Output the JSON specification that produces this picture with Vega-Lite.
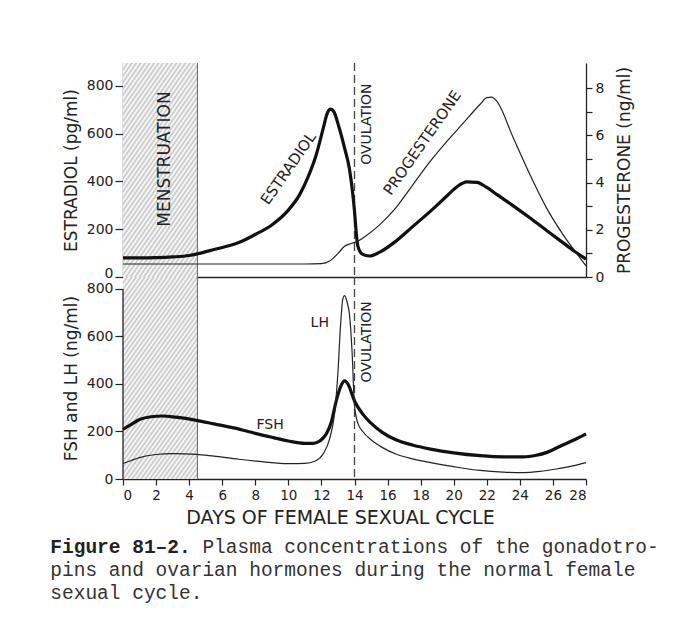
{
 "$schema": "https://vega.github.io/schema/vega-lite/v6.json",
 "background": "white",
 "padding": {"left": 50, "top": 62, "right": 5, "bottom": 5},
 "spacing": 0,
 "bounds": "flush",
 "resolve": {"scale": {"x": "independent"}, "axis": {"x": "independent"}},
 "config": {
  "view": {"stroke": null},
  "font": "DejaVu Sans",
  "axis": {"grid": false, "labelFont": "DejaVu Sans", "labelFontSize": 14, "labelColor": "#222", "titleFont": "DejaVu Sans", "titleFontSize": 17, "titleFontWeight": "normal", "titleColor": "#222", "domainColor": "#222", "tickColor": "#222", "domainWidth": 1.3, "tickWidth": 1.2, "labelOverlap": false}
 },
 "datasets": {
  "estradiol": [
   {"day":0,"v":80},{"day":1,"v":80},{"day":2,"v":81},{"day":3,"v":84},{"day":4,"v":90},{"day":4.5,"v":97},{"day":5.5,"v":115},{"day":7,"v":144},{"day":8,"v":178},{"day":9,"v":218},{"day":10,"v":280},{"day":10.7,"v":347},{"day":11.2,"v":420},{"day":11.7,"v":515},{"day":12.1,"v":620},{"day":12.35,"v":685},{"day":12.55,"v":703},{"day":12.75,"v":692},{"day":13.05,"v":630},{"day":13.4,"v":540},{"day":13.7,"v":450},{"day":13.9,"v":345},{"day":14.0,"v":276},{"day":14.1,"v":190},{"day":14.2,"v":130},{"day":14.45,"v":97},{"day":14.9,"v":88},{"day":15.5,"v":103},{"day":16.5,"v":150},{"day":17.5,"v":210},{"day":18.6,"v":276},{"day":19.6,"v":340},{"day":20.2,"v":378},{"day":20.8,"v":398},{"day":21.4,"v":396},{"day":22.0,"v":375},{"day":22.6,"v":346},{"day":23.6,"v":298},{"day":24.6,"v":248},{"day":25.6,"v":196},{"day":26.6,"v":144},{"day":27.3,"v":108},{"day":28,"v":75}
  ],
  "progesterone": [
   {"day":0,"v":0.55},{"day":4,"v":0.55},{"day":8,"v":0.55},{"day":11,"v":0.55},{"day":12,"v":0.57},{"day":12.5,"v":0.68},{"day":13,"v":1.0},{"day":13.4,"v":1.3},{"day":13.8,"v":1.42},{"day":14.2,"v":1.52},{"day":14.6,"v":1.7},{"day":15.5,"v":2.2},{"day":16.5,"v":2.93},{"day":17.55,"v":3.93},{"day":18.6,"v":4.92},{"day":19.6,"v":5.76},{"day":20.6,"v":6.54},{"day":21.6,"v":7.32},{"day":22.0,"v":7.6},{"day":22.3,"v":7.62},{"day":22.6,"v":7.45},{"day":23.6,"v":5.9},{"day":24.6,"v":4.35},{"day":25.6,"v":2.94},{"day":26.6,"v":1.81},{"day":27.4,"v":1.03},{"day":28,"v":0.47}
  ],
  "fsh": [
   {"day":0,"v":209},{"day":0.5,"v":230},{"day":1,"v":250},{"day":1.7,"v":262},{"day":2.4,"v":265},{"day":3.2,"v":260},{"day":4.45,"v":247},{"day":5.5,"v":232},{"day":7.07,"v":209},{"day":8,"v":192},{"day":9.1,"v":174},{"day":10,"v":160},{"day":11,"v":150},{"day":11.5,"v":150},{"day":11.9,"v":160},{"day":12.3,"v":190},{"day":12.6,"v":240},{"day":12.9,"v":330},{"day":13.2,"v":395},{"day":13.4,"v":413},{"day":13.6,"v":400},{"day":14.0,"v":328},{"day":14.5,"v":273},{"day":15,"v":235},{"day":15.7,"v":195},{"day":16.5,"v":165},{"day":17.5,"v":143},{"day":18.6,"v":126},{"day":20,"v":110},{"day":21.6,"v":98},{"day":23,"v":93},{"day":24.2,"v":93},{"day":25,"v":100},{"day":25.6,"v":111},{"day":26.5,"v":140},{"day":27.3,"v":165},{"day":28,"v":190}
  ],
  "lh": [
   {"day":0,"v":65},{"day":0.5,"v":78},{"day":1,"v":90},{"day":2,"v":103},{"day":3,"v":107},{"day":4.45,"v":104},{"day":5.5,"v":96},{"day":7,"v":83},{"day":8.5,"v":72},{"day":10,"v":65},{"day":11,"v":66},{"day":11.6,"v":75},{"day":12.1,"v":105},{"day":12.5,"v":170},{"day":12.8,"v":280},{"day":13.0,"v":450},{"day":13.15,"v":640},{"day":13.3,"v":760},{"day":13.4,"v":772},{"day":13.55,"v":745},{"day":13.7,"v":690},{"day":13.85,"v":540},{"day":14.0,"v":310},{"day":14.2,"v":235},{"day":14.5,"v":200},{"day":15,"v":165},{"day":15.7,"v":132},{"day":16.5,"v":105},{"day":17.5,"v":85},{"day":18.6,"v":69},{"day":20,"v":52},{"day":21.6,"v":36},{"day":23,"v":29},{"day":24.2,"v":27},{"day":25.2,"v":32},{"day":26.2,"v":42},{"day":27.2,"v":55},{"day":28,"v":69}
  ]
 },
 "title": {
  "text": "Figure 81–2.",
  "subtitle": ["\u200b\u00a0\u00a0\u00a0\u00a0\u00a0\u00a0\u00a0\u00a0\u00a0\u00a0\u00a0\u00a0\u00a0Plasma concentrations of the gonadotro-", "pins and ovarian hormones during the normal female", "sexual cycle."],
  "orient": "bottom", "anchor": "start", "frame": "bounds",
  "font": "Liberation Mono", "fontSize": 19.5, "fontWeight": "bold", "color": "#222",
  "subtitleFont": "Liberation Mono", "subtitleFontSize": 19.5, "subtitleFontWeight": "normal", "subtitleColor": "#333", "subtitleLineHeight": 23, "subtitlePadding": -19.5,
  "offset": 10, "dx": -12
 },
 "vconcat": [
  {
   "width": 463, "height": 214,
   "layer": [
    {"layer": [
     {"data": {"values": [{"day": 0, "end": 4.5}]},
      "mark": {"type": "rect", "fill": {"gradient":"linear","x1":0,"y1":0,"x2":0.6,"y2":1.2,"stops":[{"offset":0,"color":"#c4c4c4"},{"offset":0.01,"color":"#fff"},{"offset":0.02,"color":"#c4c4c4"},{"offset":0.03,"color":"#fff"},{"offset":0.04,"color":"#c4c4c4"},{"offset":0.05,"color":"#fff"},{"offset":0.06,"color":"#c4c4c4"},{"offset":0.07,"color":"#fff"},{"offset":0.08,"color":"#c4c4c4"},{"offset":0.09,"color":"#fff"},{"offset":0.1,"color":"#c4c4c4"},{"offset":0.11,"color":"#fff"},{"offset":0.12,"color":"#c4c4c4"},{"offset":0.13,"color":"#fff"},{"offset":0.14,"color":"#c4c4c4"},{"offset":0.15,"color":"#fff"},{"offset":0.16,"color":"#c4c4c4"},{"offset":0.17,"color":"#fff"},{"offset":0.18,"color":"#c4c4c4"},{"offset":0.19,"color":"#fff"},{"offset":0.2,"color":"#c4c4c4"},{"offset":0.21,"color":"#fff"},{"offset":0.22,"color":"#c4c4c4"},{"offset":0.23,"color":"#fff"},{"offset":0.24,"color":"#c4c4c4"},{"offset":0.25,"color":"#fff"},{"offset":0.26,"color":"#c4c4c4"},{"offset":0.27,"color":"#fff"},{"offset":0.28,"color":"#c4c4c4"},{"offset":0.29,"color":"#fff"},{"offset":0.3,"color":"#c4c4c4"},{"offset":0.31,"color":"#fff"},{"offset":0.32,"color":"#c4c4c4"},{"offset":0.33,"color":"#fff"},{"offset":0.34,"color":"#c4c4c4"},{"offset":0.35,"color":"#fff"},{"offset":0.36,"color":"#c4c4c4"},{"offset":0.37,"color":"#fff"},{"offset":0.38,"color":"#c4c4c4"},{"offset":0.39,"color":"#fff"},{"offset":0.4,"color":"#c4c4c4"},{"offset":0.41,"color":"#fff"},{"offset":0.42,"color":"#c4c4c4"},{"offset":0.43,"color":"#fff"},{"offset":0.44,"color":"#c4c4c4"},{"offset":0.45,"color":"#fff"},{"offset":0.46,"color":"#c4c4c4"},{"offset":0.47,"color":"#fff"},{"offset":0.48,"color":"#c4c4c4"},{"offset":0.49,"color":"#fff"},{"offset":0.5,"color":"#c4c4c4"},{"offset":0.51,"color":"#fff"},{"offset":0.52,"color":"#c4c4c4"},{"offset":0.53,"color":"#fff"},{"offset":0.54,"color":"#c4c4c4"},{"offset":0.55,"color":"#fff"},{"offset":0.56,"color":"#c4c4c4"},{"offset":0.57,"color":"#fff"},{"offset":0.58,"color":"#c4c4c4"},{"offset":0.59,"color":"#fff"},{"offset":0.6,"color":"#c4c4c4"},{"offset":0.61,"color":"#fff"},{"offset":0.62,"color":"#c4c4c4"},{"offset":0.63,"color":"#fff"},{"offset":0.64,"color":"#c4c4c4"},{"offset":0.65,"color":"#fff"},{"offset":0.66,"color":"#c4c4c4"},{"offset":0.67,"color":"#fff"},{"offset":0.68,"color":"#c4c4c4"},{"offset":0.69,"color":"#fff"},{"offset":0.7,"color":"#c4c4c4"},{"offset":0.71,"color":"#fff"},{"offset":0.72,"color":"#c4c4c4"},{"offset":0.73,"color":"#fff"},{"offset":0.74,"color":"#c4c4c4"},{"offset":0.75,"color":"#fff"},{"offset":0.76,"color":"#c4c4c4"},{"offset":0.77,"color":"#fff"},{"offset":0.78,"color":"#c4c4c4"},{"offset":0.79,"color":"#fff"},{"offset":0.8,"color":"#c4c4c4"},{"offset":0.81,"color":"#fff"},{"offset":0.82,"color":"#c4c4c4"},{"offset":0.83,"color":"#fff"},{"offset":0.84,"color":"#c4c4c4"},{"offset":0.85,"color":"#fff"},{"offset":0.86,"color":"#c4c4c4"},{"offset":0.87,"color":"#fff"},{"offset":0.88,"color":"#c4c4c4"},{"offset":0.89,"color":"#fff"},{"offset":0.9,"color":"#c4c4c4"},{"offset":0.91,"color":"#fff"},{"offset":0.92,"color":"#c4c4c4"},{"offset":0.93,"color":"#fff"},{"offset":0.94,"color":"#c4c4c4"},{"offset":0.95,"color":"#fff"},{"offset":0.96,"color":"#c4c4c4"},{"offset":0.97,"color":"#fff"},{"offset":0.98,"color":"#c4c4c4"},{"offset":0.99,"color":"#fff"},{"offset":1,"color":"#c4c4c4"}]}},
      "encoding": {"x2": {"field": "end"}}},
     {"data": {"values": [{"day": 4.5}]}, "mark": {"type": "rule", "color": "#666", "strokeWidth": 1}},
     {"data": {"values": [{"day": 14}]}, "mark": {"type": "rule", "color": "#444", "strokeWidth": 1.3, "strokeDash": [8, 4]}},
     {"data": {"name": "estradiol"}, "mark": {"type": "line", "color": "#111", "strokeWidth": 3.2, "interpolate": "monotone"},
      "encoding": {"y": {"field": "v", "type": "quantitative", "scale": {"domain": [0, 896], "nice": false}, "axis": {"title": "ESTRADIOL (pg/ml)", "values": [0,100,200,300,400,500,600,700,800], "labelExpr": "datum.value % 200 == 0 ? datum.label : ''", "tickSize": 8, "labelPadding": 2, "titlePadding": 6, "labelFlush": true, "labelFlushOffset": 3}}}},
     {"data": {"values": [{"day": 2.55, "v": 494, "t": "MENSTRUATION"}]}, "mark": {"type": "text", "angle": 270, "fontSize": 17, "font": "DejaVu Sans", "color": "#222", "align": "center", "baseline": "middle"},
      "encoding": {"y": {"field": "v", "type": "quantitative"}, "text": {"field": "t"}}},
     {"data": {"values": [{"day": 14.74, "v": 640, "t": "OVULATION"}]}, "mark": {"type": "text", "angle": 270, "fontSize": 14, "font": "DejaVu Sans", "color": "#222", "align": "center", "baseline": "middle"},
      "encoding": {"y": {"field": "v", "type": "quantitative"}, "text": {"field": "t"}}},
     {"data": {"values": [{"day": 10.0, "v": 455, "t": "ESTRADIOL"}, {"day": 18.1, "v": 562, "t": "PROGESTERONE"}]}, "mark": {"type": "text", "angle": 305, "fontSize": 15, "font": "DejaVu Sans", "color": "#222", "align": "center", "baseline": "middle"},
      "encoding": {"y": {"field": "v", "type": "quantitative"}, "text": {"field": "t"}}}
    ]},
    {"data": {"name": "progesterone"}, "mark": {"type": "line", "color": "#222", "strokeWidth": 1.2, "interpolate": "monotone"},
     "encoding": {"y": {"field": "v", "type": "quantitative", "scale": {"domain": [0, 9.07], "nice": false}, "axis": {"orient": "right", "title": "PROGESTERONE (ng/ml)", "titleAngle": 270, "values": [0,1,2,3,4,5,6,7,8], "labelExpr": "datum.value % 2 == 0 ? datum.label : ''", "tickSize": 6, "labelPadding": 3, "titlePadding": 30}}}}
   ],
   "encoding": {"x": {"field": "day", "type": "quantitative", "scale": {"domain": [0, 28], "nice": false}, "axis": {"title": null, "labels": false, "ticks": false, "domain": true}}},
   "resolve": {"scale": {"y": "independent"}}
  },
  {
   "width": 463, "height": 202,
   "encoding": {"x": {"field": "day", "type": "quantitative", "scale": {"domain": [0, 28], "nice": false}, "axis": {"title": "DAYS OF FEMALE SEXUAL CYCLE", "titleFontSize": 19, "labelFontSize": 13.5, "values": [0,2,4,6,8,10,12,14,16,18,20,22,24,26,28], "tickSize": 6, "labelPadding": 3, "titlePadding": 7, "titleX": 217, "titleAlign": "center"}}},
   "layer": [
    {"data": {"values": [{"day": 0, "end": 4.5}]},
     "mark": {"type": "rect", "fill": {"gradient":"linear","x1":0,"y1":0,"x2":0.62,"y2":1.2,"stops":[{"offset":0,"color":"#c4c4c4"},{"offset":0.01,"color":"#fff"},{"offset":0.02,"color":"#c4c4c4"},{"offset":0.03,"color":"#fff"},{"offset":0.04,"color":"#c4c4c4"},{"offset":0.05,"color":"#fff"},{"offset":0.06,"color":"#c4c4c4"},{"offset":0.07,"color":"#fff"},{"offset":0.08,"color":"#c4c4c4"},{"offset":0.09,"color":"#fff"},{"offset":0.1,"color":"#c4c4c4"},{"offset":0.11,"color":"#fff"},{"offset":0.12,"color":"#c4c4c4"},{"offset":0.13,"color":"#fff"},{"offset":0.14,"color":"#c4c4c4"},{"offset":0.15,"color":"#fff"},{"offset":0.16,"color":"#c4c4c4"},{"offset":0.17,"color":"#fff"},{"offset":0.18,"color":"#c4c4c4"},{"offset":0.19,"color":"#fff"},{"offset":0.2,"color":"#c4c4c4"},{"offset":0.21,"color":"#fff"},{"offset":0.22,"color":"#c4c4c4"},{"offset":0.23,"color":"#fff"},{"offset":0.24,"color":"#c4c4c4"},{"offset":0.25,"color":"#fff"},{"offset":0.26,"color":"#c4c4c4"},{"offset":0.27,"color":"#fff"},{"offset":0.28,"color":"#c4c4c4"},{"offset":0.29,"color":"#fff"},{"offset":0.3,"color":"#c4c4c4"},{"offset":0.31,"color":"#fff"},{"offset":0.32,"color":"#c4c4c4"},{"offset":0.33,"color":"#fff"},{"offset":0.34,"color":"#c4c4c4"},{"offset":0.35,"color":"#fff"},{"offset":0.36,"color":"#c4c4c4"},{"offset":0.37,"color":"#fff"},{"offset":0.38,"color":"#c4c4c4"},{"offset":0.39,"color":"#fff"},{"offset":0.4,"color":"#c4c4c4"},{"offset":0.41,"color":"#fff"},{"offset":0.42,"color":"#c4c4c4"},{"offset":0.43,"color":"#fff"},{"offset":0.44,"color":"#c4c4c4"},{"offset":0.45,"color":"#fff"},{"offset":0.46,"color":"#c4c4c4"},{"offset":0.47,"color":"#fff"},{"offset":0.48,"color":"#c4c4c4"},{"offset":0.49,"color":"#fff"},{"offset":0.5,"color":"#c4c4c4"},{"offset":0.51,"color":"#fff"},{"offset":0.52,"color":"#c4c4c4"},{"offset":0.53,"color":"#fff"},{"offset":0.54,"color":"#c4c4c4"},{"offset":0.55,"color":"#fff"},{"offset":0.56,"color":"#c4c4c4"},{"offset":0.57,"color":"#fff"},{"offset":0.58,"color":"#c4c4c4"},{"offset":0.59,"color":"#fff"},{"offset":0.6,"color":"#c4c4c4"},{"offset":0.61,"color":"#fff"},{"offset":0.62,"color":"#c4c4c4"},{"offset":0.63,"color":"#fff"},{"offset":0.64,"color":"#c4c4c4"},{"offset":0.65,"color":"#fff"},{"offset":0.66,"color":"#c4c4c4"},{"offset":0.67,"color":"#fff"},{"offset":0.68,"color":"#c4c4c4"},{"offset":0.69,"color":"#fff"},{"offset":0.7,"color":"#c4c4c4"},{"offset":0.71,"color":"#fff"},{"offset":0.72,"color":"#c4c4c4"},{"offset":0.73,"color":"#fff"},{"offset":0.74,"color":"#c4c4c4"},{"offset":0.75,"color":"#fff"},{"offset":0.76,"color":"#c4c4c4"},{"offset":0.77,"color":"#fff"},{"offset":0.78,"color":"#c4c4c4"},{"offset":0.79,"color":"#fff"},{"offset":0.8,"color":"#c4c4c4"},{"offset":0.81,"color":"#fff"},{"offset":0.82,"color":"#c4c4c4"},{"offset":0.83,"color":"#fff"},{"offset":0.84,"color":"#c4c4c4"},{"offset":0.85,"color":"#fff"},{"offset":0.86,"color":"#c4c4c4"},{"offset":0.87,"color":"#fff"},{"offset":0.88,"color":"#c4c4c4"},{"offset":0.89,"color":"#fff"},{"offset":0.9,"color":"#c4c4c4"},{"offset":0.91,"color":"#fff"},{"offset":0.92,"color":"#c4c4c4"},{"offset":0.93,"color":"#fff"},{"offset":0.94,"color":"#c4c4c4"},{"offset":0.95,"color":"#fff"},{"offset":0.96,"color":"#c4c4c4"},{"offset":0.97,"color":"#fff"},{"offset":0.98,"color":"#c4c4c4"},{"offset":0.99,"color":"#fff"},{"offset":1,"color":"#c4c4c4"}]}},
     "encoding": {"x2": {"field": "end"}}},
    {"data": {"values": [{"day": 4.5}]}, "mark": {"type": "rule", "color": "#666", "strokeWidth": 1}},
    {"data": {"values": [{"day": 14}]}, "mark": {"type": "rule", "color": "#444", "strokeWidth": 1.3, "strokeDash": [8, 4]}},
    {"data": {"values": [{"day": 0, "a": 0, "b": 800}]}, "mark": {"type": "rule", "color": "#222", "strokeWidth": 1.3}, "encoding": {"y": {"field": "a", "type": "quantitative"}, "y2": {"field": "b"}}},
    {"data": {"name": "fsh"}, "mark": {"type": "line", "color": "#111", "strokeWidth": 3.2, "interpolate": "monotone"},
     "encoding": {"y": {"field": "v", "type": "quantitative", "scale": {"domain": [0, 850], "nice": false}, "axis": {"title": "FSH and LH (ng/ml)", "domain": false, "values": [0,100,200,300,400,500,600,700,800], "labelExpr": "datum.value % 200 == 0 ? datum.label : ''", "tickSize": 8, "labelPadding": 2, "titlePadding": 6}}}},
    {"data": {"name": "lh"}, "mark": {"type": "line", "color": "#222", "strokeWidth": 1.2, "interpolate": "monotone"},
     "encoding": {"y": {"field": "v", "type": "quantitative"}}},
    {"data": {"values": [{"day": 11.9, "v": 658, "t": "LH"}, {"day": 8.9, "v": 227, "t": "FSH"}]}, "mark": {"type": "text", "fontSize": 14, "font": "DejaVu Sans", "color": "#222", "align": "center", "baseline": "middle"},
     "encoding": {"y": {"field": "v", "type": "quantitative"}, "text": {"field": "t"}}},
    {"data": {"values": [{"day": 14.74, "v": 577, "t": "OVULATION"}]}, "mark": {"type": "text", "angle": 270, "fontSize": 14, "font": "DejaVu Sans", "color": "#222", "align": "center", "baseline": "middle"},
     "encoding": {"y": {"field": "v", "type": "quantitative"}, "text": {"field": "t"}}}
   ]
  }
 ]
}
